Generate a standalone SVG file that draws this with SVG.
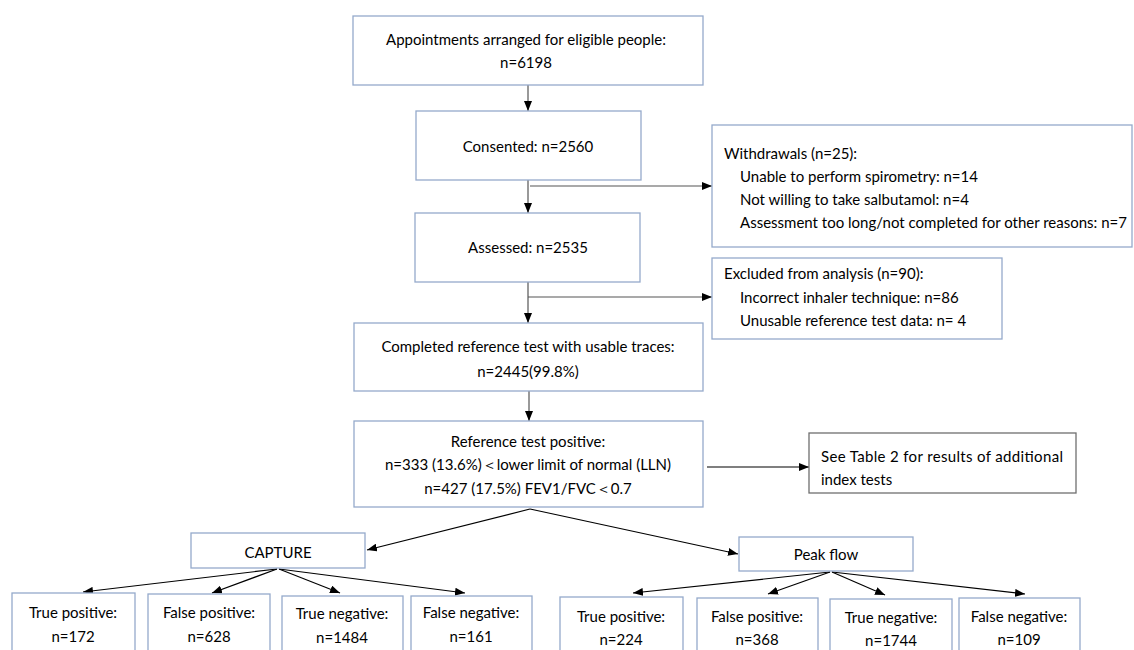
<svg xmlns="http://www.w3.org/2000/svg" width="1134" height="650" viewBox="0 0 1134 650">
<defs>
<style>
.box{fill:#fff;stroke:#95AACB;stroke-width:1.3}
.dbox{fill:#fff;stroke:#6f6f6f;stroke-width:1.3}
text{font-family:Lato,"Liberation Sans",sans-serif;font-size:15px;fill:#000}
.c{text-anchor:middle}
.ln{stroke:#000;stroke-width:1.2;fill:none}
.gl{stroke:#555;stroke-width:1.2;fill:none}
</style>
<marker id="ah" markerWidth="10" markerHeight="8" refX="10" refY="4" orient="auto" markerUnits="userSpaceOnUse">
<path d="M0,0 L10,4 L0,8 Z" fill="#000"/>
</marker>
</defs>
<rect width="1134" height="650" fill="#fff"/>

<g id="connectors">
<line class="gl" x1="528" y1="85" x2="528" y2="111" marker-end="url(#ah)"/>
<line class="gl" x1="528" y1="180" x2="528" y2="213" marker-end="url(#ah)"/>
<line class="gl" x1="530" y1="186" x2="712" y2="186" marker-end="url(#ah)"/>
<line class="gl" x1="528" y1="282" x2="528" y2="323" marker-end="url(#ah)"/>
<line class="gl" x1="528" y1="297" x2="712" y2="297" marker-end="url(#ah)"/>
<line class="gl" x1="529" y1="391" x2="529" y2="421" marker-end="url(#ah)"/>
<line class="ln" x1="707" y1="467" x2="809" y2="467" marker-end="url(#ah)"/>
<line class="ln" x1="530" y1="509" x2="367" y2="550" marker-end="url(#ah)"/>
<line class="ln" x1="530" y1="509" x2="738" y2="554" marker-end="url(#ah)"/>
<line class="ln" x1="277" y1="569" x2="83" y2="592" marker-end="url(#ah)"/>
<line class="ln" x1="277" y1="569" x2="212" y2="593" marker-end="url(#ah)"/>
<line class="ln" x1="279" y1="569" x2="340" y2="593" marker-end="url(#ah)"/>
<line class="ln" x1="279" y1="569" x2="465" y2="593" marker-end="url(#ah)"/>
<line class="ln" x1="830" y1="572" x2="633" y2="593" marker-end="url(#ah)"/>
<line class="ln" x1="830" y1="572" x2="768" y2="594" marker-end="url(#ah)"/>
<line class="ln" x1="832" y1="572" x2="885" y2="595" marker-end="url(#ah)"/>
<line class="ln" x1="832" y1="572" x2="1025" y2="594" marker-end="url(#ah)"/>
</g>

<g id="appointments">
<rect class="box" x="353" y="16" width="350" height="69"/>
<text class="c" x="526" y="45">Appointments arranged for eligible people:</text>
<text class="c" x="526" y="68">n=6198</text>
</g>

<g id="consented">
<rect class="box" x="416" y="111" width="225" height="69"/>
<text class="c" x="528" y="152">Consented: n=2560</text>
</g>

<g id="withdrawals">
<rect class="box" x="712" y="125" width="420" height="122"/>
<text x="724" y="159">Withdrawals (n=25):</text>
<text x="740" y="182">Unable to perform spirometry: n=14</text>
<text x="740" y="205">Not willing to take salbutamol: n=4</text>
<text x="740" y="228">Assessment too long/not completed for other reasons: n=7</text>
</g>

<g id="assessed">
<rect class="box" x="415" y="213" width="225" height="69"/>
<text class="c" x="528" y="253">Assessed: n=2535</text>
</g>

<g id="excluded">
<rect class="box" x="712" y="258" width="290" height="81"/>
<text x="724" y="279">Excluded from analysis (n=90):</text>
<text x="740" y="303">Incorrect inhaler technique: n=86</text>
<text x="740" y="326">Unusable reference test data: n= 4</text>
</g>

<g id="completed">
<rect class="box" x="354" y="323" width="349" height="68"/>
<text class="c" x="528" y="352">Completed reference test with usable traces:</text>
<text class="c" x="528" y="377">n=2445(99.8%)</text>
</g>

<g id="reference">
<rect class="box" x="354" y="421" width="349" height="86"/>
<text class="c" x="528" y="447">Reference test positive:</text>
<text class="c" x="528" y="470">n=333 (13.6%)＜lower limit of normal (LLN)</text>
<text class="c" x="528" y="494">n=427 (17.5%) FEV1/FVC＜0.7</text>
</g>

<g id="table2">
<rect class="dbox" x="809" y="433" width="267" height="60"/>
<text x="821" y="462" textLength="242" lengthAdjust="spacing">See Table 2 for results of additional</text>
<text x="821" y="485">index tests</text>
</g>

<g id="capture">
<rect class="box" x="191" y="533" width="174" height="35"/>
<text class="c" x="278" y="558">CAPTURE</text>
</g>

<g id="peakflow">
<rect class="box" x="739" y="537" width="174" height="34"/>
<text class="c" x="826" y="560">Peak flow</text>
</g>

<g id="cap-tp">
<rect class="box" x="12" y="593" width="123" height="70"/>
<text class="c" x="73" y="618">True positive:</text>
<text class="c" x="73" y="642">n=172</text>
</g>
<g id="cap-fp">
<rect class="box" x="148" y="594" width="122" height="70"/>
<text class="c" x="209" y="618">False positive:</text>
<text class="c" x="209" y="642">n=628</text>
</g>
<g id="cap-tn">
<rect class="box" x="282" y="596" width="121" height="70"/>
<text class="c" x="342" y="619">True negative:</text>
<text class="c" x="342" y="643">n=1484</text>
</g>
<g id="cap-fn">
<rect class="box" x="411" y="596" width="121" height="70"/>
<text class="c" x="471" y="618">False negative:</text>
<text class="c" x="471" y="642">n=161</text>
</g>

<g id="pf-tp">
<rect class="box" x="560" y="597" width="123" height="70"/>
<text class="c" x="621" y="622">True positive:</text>
<text class="c" x="621" y="645">n=224</text>
</g>
<g id="pf-fp">
<rect class="box" x="697" y="598" width="121" height="70"/>
<text class="c" x="757" y="622">False positive:</text>
<text class="c" x="757" y="645">n=368</text>
</g>
<g id="pf-tn">
<rect class="box" x="830" y="599" width="122" height="70"/>
<text class="c" x="891" y="623">True negative:</text>
<text class="c" x="891" y="646">n=1744</text>
</g>
<g id="pf-fn">
<rect class="box" x="959" y="598" width="121" height="70"/>
<text class="c" x="1019" y="622">False negative:</text>
<text class="c" x="1019" y="645">n=109</text>
</g>
</svg>
